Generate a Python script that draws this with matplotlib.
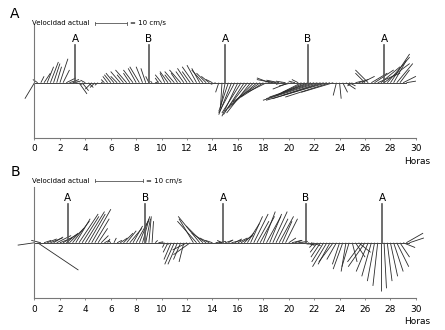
import numpy as np
import matplotlib.pyplot as plt
from matplotlib.collections import LineCollection

# velocidades (cm/s), una cada 15 min desde la hora 0
u_a = [-3, -1.5, 1, 2, 2, 2.5, 2, 1.5, 2.5, 2, 3, 3, 2.5, 2, 2.5, 2,
       -1.5, 1.5, -2, -1.5, -1, 0.5, -1, -1.5, -2, -2.5, -2, -3, -2, -3.5, -2, -3,
       -2.5, -3, -2, -1.5, -1, -0.5, 1, -1, -2, -1.5, -2.5, -2, -3, -2, -3.5, -2.5,
       -3, -2.5, -3.5, -3, -2.5, -3.5, -3, -2.5, -2, -1.5, -1, -0.5, -1.5, -3, -4, -5,
       -5, -6, -6.5, -7, -7.5, -8, -8, -8.5, -7, -6, -4, -5, -3, -4, -2, -3,
       -5, -4, -2, -2, -6, -8, -10, -13, -15, -17, -12, -16, -19, -14, -10, -1,
       0.5, 1.5, 3, 2, -1.5, 2, 3, 4, -3, -4, 5, 6, 7, 6, 8, 7,
       6, 4, 5, 3, 4, 3]
v_a = [-5, 1, 2, 3, 5, 6.5, 6, 5, 7.5, 4, 1.5, 1, 0.5, -0.5, -3.5, -2.5,
       0.8, -1.5, -2, -1.5, -0.8, 0.3, 1, 2, 2.5, 3, 2, 3.5, 2.5, 4, 3, 4,
       4.5, 5, 5, 4.5, 2, 0.5, 0.3, 1.5, 2.5, 3, 3.5, 2.5, 3.5, 3, 4, 3.5,
       4.5, 3.5, 5, 5.5, 4.5, 4, 3, 2, 1, -0.5, -3, -8, -8, -9, -10, -9.5,
       -10.5, -9.5, -10, -9, -9.5, -8, -7, -6, -4.5, -3, 1.5, 1, 0.5, 0.8, -0.5, 0.5,
       -2, -1, 0.5, 1, -3, -3.5, -4, -4.5, -5, -5.5, -4, -5, -5.5, -4.5, -3, -4,
       -5, -3, -2, -1, -1, 0.5, 1, 2, 3, 4, 3, 4, 3, 5, 6, 8,
       9, 7, 6, 4, 2, 0.5]

u_b = [-3.5, 8.5, -2, 1.5, 2, 2.5, 2, 3, 2.5, 3, 2.5, 3, 3.5, 3, 4, 3.5,
       4, 3.5, 4, 3, 2, 1.5, 1, 0.5, -0.5, 0.5, 1, 1.5, 2, 2, 2.5, 2,
       2.5, 2, 1.5, 1, 0.5, 0.3, 0.5, 1, 1.5, -0.5, -1, -1.5, -2, -2, -1.5, -1,
       -3, -3.5, -3, -4, -4.5, -3.5, -3, -2, -1.5, 1, 1.5, -1, 1.5, 1, 2, 1.5,
       2, 2.5, 2, 2.5, 2.5, 3, 2.5, 3, 2.5, 3, 2.5, 3, 2.5, 3, 2, 2.5,
       1.5, 2, 1.5, 2, 1.5, 2, 1.5, 2, -1, -1.5, -2, -2.5, -3, -2.5, -3, -2,
       -1.5, -2, -1, -1.5, 1, 2, 2.5, -3, -3.5, -2.5, -2, -1.5, -1, 0, 0.5, 1,
       1.5, 2, 2.5, 2, 2.5, 3.5, 3]
v_b = [-0.5, -5.7, 0.5, 0.5, 0.8, 1, 1.2, 1.5, 1, 1.8, 2, 3, 4.5, 5, 6, 5.5,
       6.5, 6, 7, 5, 3, 1.5, 0.5, 0.8, 0.5, 1, 0.5, 1, 2, 2.5, 3, 3.5,
       4.5, 5, 5.5, 5, 5.5, 4.5, 0.5, 0.2, -0.3, -1, -2, -3.5, -4.5, -4.5, -3.5, -4,
       -1.5, -2.5, 5, 4.5, 5.5, 3.5, 2, 1, 0.5, 0.2, 0.3, 0.5, 0.5, 0.6, 0.5, 0.8,
       1, 1.5, 2, 4, 5.5, 6, 4.5, 5.5, 6.5, 5.5, 6, 6.5, 5, 5.5, 4.5, 5,
       1, 0.5, 0.5, 0.3, -0.3, -0.5, -0.5, -0.6, -1, -2, -3, -4, -5, -4.5, -4, -3.5,
       -4.5, -5.5, -6, -5, -4, -3, -2, -4, -5, -6, -7, -8, -9, -10, -9.5, -8,
       -7, -6, -5, -3, -1, 2, 1]

# marcas de marea
marks_a = [(3.2, 'A'), (9.0, 'B'), (15.0, 'A'), (21.5, 'B'), (27.5, 'A')]
marks_b = [(2.6, 'A'), (8.7, 'B'), (14.85, 'A'), (21.35, 'B'), (27.35, 'A')]

plt.rcParams['font.family'] = ['DejaVu Sans']

fig = plt.figure(figsize=(4.45, 3.30), dpi=100, facecolor='white')


def panel(rect, letter, letter_y, u, v, k, ylim, marks, mark_h, bar_y):
    ax = fig.add_axes(rect)
    t = np.arange(len(u)) * 0.25
    u = np.array(u) * k
    v = np.array(v) * k
    segs = [[(t[i], 0), (t[i] + u[i], v[i])] for i in range(len(t))]
    ax.add_collection(LineCollection(segs, colors='#2a2a2a', linewidths=0.6,
                                     clip_on=False))
    ax.plot([0, t[-1]], [0, 0], color='#444444', lw=0.7)
    for x, lab in marks:
        ax.plot([x, x], [0, mark_h], color='#555555', lw=1.2)
        ax.text(x, mark_h + 0.1, lab, ha='center', va='bottom', fontsize=7.5)
    ax.set_xlim(0, 30)
    ax.set_ylim(*ylim)
    for s in ['top', 'right']:
        ax.spines[s].set_visible(False)
    for s in ['left', 'bottom']:
        ax.spines[s].set_color('#777777')
        ax.spines[s].set_linewidth(0.8)
    ax.set_yticks([])
    ax.set_xticks(range(0, 31, 2))
    ax.tick_params(axis='x', labelsize=6.5, length=1.5, width=0.6,
                   color='#777777', pad=3)
    # barra de escala
    ax.text(-0.2, bar_y, 'Velocidad actual', fontsize=5, ha='left', va='center',
            clip_on=False)
    x0 = 4.75
    x1 = x0 + 10 * k
    ax.plot([x0, x1], [bar_y, bar_y], color='#555555', lw=0.6, clip_on=False)
    ax.plot([x0, x0], [bar_y - 0.12, bar_y + 0.12], color='#555555', lw=0.6, clip_on=False)
    ax.plot([x1, x1], [bar_y - 0.12, bar_y + 0.12], color='#555555', lw=0.6, clip_on=False)
    ax.text(x1 + 0.25, bar_y, '= 10 cm/s', fontsize=5, ha='left', va='center')
    ax.text(30.1, ylim[0] - 1.85, 'Horas', fontsize=6.5, ha='center', va='center',
            clip_on=False)
    fig.text(0.034, letter_y, letter, fontsize=10, ha='center', va='center')
    return ax


panel([0.0775, 0.582, 0.857, 0.342], 'A', 0.958, u_a, v_a, 0.2516,
      (-4.35, 4.54), marks_a, 2.96, 4.69)
panel([0.0775, 0.096, 0.857, 0.338], 'B', 0.478, u_b, v_b, 0.377,
      (-4.37, 4.40), marks_b, 3.04, 4.87)

fig.savefig('out.png', dpi=100, facecolor='white')
